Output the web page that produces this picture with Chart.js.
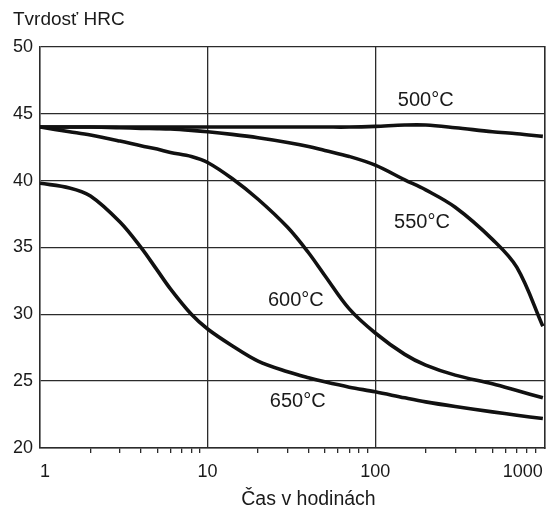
<!DOCTYPE html>
<html>
<head>
<meta charset="utf-8">
<script src="https://cdn.jsdelivr.net/npm/chart.js@4.4.1/dist/chart.umd.min.js"></script>
<style>
html,body{margin:0;padding:0;background:#fff}
#wrap{width:555px;height:507px}
</style>
</head>
<body>
<div id="wrap"><canvas id="chart"></canvas></div>
<script>

// hodiny (log os) a tvrdost pro jednotlive teploty
const hours = [1,1.5,2,3,4,5,6,8,10,14,20,30,40,50,70,100,150,200,300,500,700,1000]
const hrc500 = [44,44,44,44,44,44,44,44,44,44,44,44,44,44,44,44.05,44.15,44.15,43.95,43.65,43.5,43.3]
const hrc550 = [44,44,44,43.95,43.9,43.88,43.85,43.75,43.65,43.45,43.2,42.85,42.55,42.25,41.8,41.15,40.05,39.3,38.0,35.6,33.5,29.1]
const hrc600 = [44,43.65,43.4,42.95,42.6,42.35,42.1,41.8,41.35,40.15,38.6,36.5,34.6,32.9,30.4,28.6,27.0,26.2,25.45,24.8,24.3,23.75]
const hrc650 = [39.8,39.45,38.85,36.9,35.0,33.3,31.9,30.0,28.9,27.65,26.5,25.7,25.25,24.95,24.55,24.2,23.75,23.45,23.1,22.7,22.45,22.2]

const tickHours = [1,2,3,4,5,6,7,8,9,10,20,30,40,50,60,70,80,90,100,200,300,400,500,600,700,800,900,1000]
const labeledHours = [1,10,100,1000]
const gridHours = [10,100]

const curveLabels = ["500°C","550°C","600°C","650°C"]
const labelHours = [200,190,33.6,34.5]
const labelHRC = [46.0,36.85,31.05,23.45]

const yTitle = "Tvrdosť HRC"
const xTitle = "Čas v hodinách"

const ink = "#1a1a1a"
const gridInk = "#2b2b2b"
const font = '"Liberation Sans", Arial, sans-serif'

function curve(data){
return {
data:data,
borderColor:"#111",
borderWidth:3.6,
pointRadius:0,
tension:0.35,
fill:false
}
}

const textPlugin = {
id:"texts",
afterDraw(chart){
const ctx = chart.ctx
const x = chart.scales.x
const y = chart.scales.y
const area = chart.chartArea
ctx.save()
ctx.fillStyle = ink
ctx.font = "20px "+font
ctx.textAlign = "center"
ctx.textBaseline = "middle"
curveLabels.forEach((t,i)=>{
ctx.fillText(t, x.getPixelForValue(labelHours[i]), y.getPixelForValue(labelHRC[i]))
})
ctx.font = "19.5px "+font
ctx.textBaseline = "alphabetic"
ctx.fillText(xTitle, (area.left+area.right)/2+16, 505)
ctx.restore()
}
}

new Chart(document.getElementById("chart"),{
type:"line",
data:{
labels:hours,
datasets:[curve(hrc500),curve(hrc550),curve(hrc600),curve(hrc650)]
},
options:{
responsive:true,
maintainAspectRatio:false,
animation:false,
layout:{padding:{left:13,right:10,top:0,bottom:0}},
plugins:{
legend:{display:false},
tooltip:{enabled:false},
title:{
display:true,
text:yTitle,
align:"start",
color:ink,
font:{size:19,family:font,weight:"normal"},
padding:{top:8,bottom:16}
}
},
scales:{
x:{
type:"logarithmic",
min:1,
max:1030,
afterBuildTicks(scale){
scale.ticks = tickHours.map(v=>({value:v,major:labeledHours.includes(v)}))
},
afterFit(scale){
scale.height = 59
},
grid:{
color:ctx=>ctx.tick && gridHours.includes(ctx.tick.value) ? gridInk : "transparent",
tickColor:ctx=>ctx.tick && !labeledHours.includes(ctx.tick.value) ? gridInk : "transparent",
lineWidth:1.3,
tickWidth:1.3,
tickLength:5
},
border:{display:true,color:gridInk,width:1.6},
ticks:{
autoSkip:false,
maxRotation:0,
align:"inner",
padding:8,
color:ink,
font:{size:18,family:font},
callback:v=>labeledHours.includes(v) ? String(v) : ""
}
},
y:{
min:20,
max:50,
afterFit(scale){
scale.width = 27
},
grid:{color:gridInk,lineWidth:1.3,drawTicks:false},
border:{display:true,color:gridInk,width:1.6},
ticks:{
stepSize:5,
padding:7,
color:ink,
font:{size:18,family:font}
}
},
y2:{
position:"right",
afterFit(scale){
scale.width = 0
},
grid:{drawOnChartArea:false,drawTicks:false},
border:{display:true,color:gridInk,width:1.6},
ticks:{display:false}
}
}
},
plugins:[textPlugin]
})

</script>
</body>
</html>
